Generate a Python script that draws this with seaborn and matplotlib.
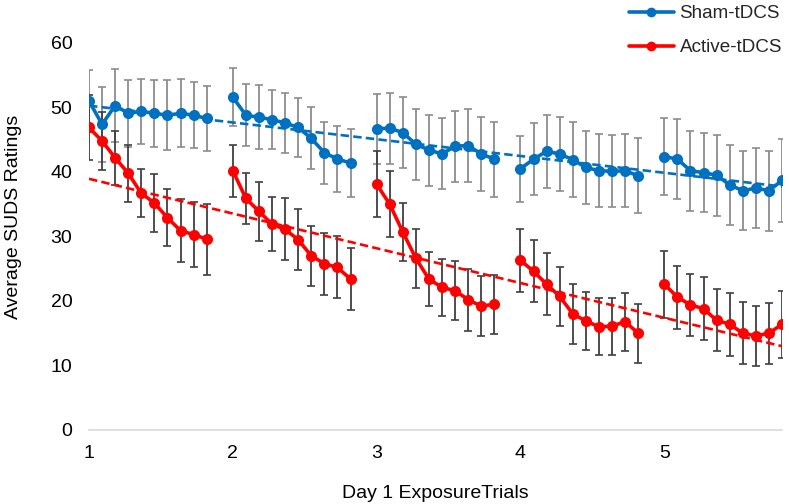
import numpy as np
import pandas as pd
import matplotlib
matplotlib.use("Agg")
import matplotlib.pyplot as plt
from matplotlib.lines import Line2D
import seaborn as sns

# ---------------- data ----------------
block_labels = ["1", "2", "3", "4", "5"]
trials_per_block = 10

sham_mean = [51.0, 47.4, 50.3, 49.1, 49.4, 49.1, 48.8, 49.1, 48.8, 48.3,
             51.6, 48.8, 48.5, 48.1, 47.6, 46.9, 45.2, 43.0, 42.0, 41.4,
             46.7, 46.8, 46.1, 44.3, 43.4, 42.8, 44.0, 44.1, 42.8, 42.0,
             40.5, 42.0, 43.2, 42.8, 41.9, 40.7, 40.2, 40.1, 40.2, 39.4,
             42.4, 42.0, 40.2, 39.9, 39.5, 38.0, 37.1, 37.5, 37.1, 38.7]
sham_err = [4.8, 5.8, 5.6, 5.2, 5.0, 5.2, 5.4, 5.3, 5.1, 5.0,
            4.5, 4.8, 5.0, 4.6, 4.6, 4.6, 4.8, 4.8, 5.1, 5.2,
            5.4, 5.5, 5.5, 5.5, 5.5, 5.5, 5.5, 5.6, 5.8, 5.8,
            5.1, 5.6, 5.7, 5.7, 5.8, 5.6, 5.7, 5.6, 5.7, 5.8,
            6.0, 6.2, 6.2, 6.1, 6.3, 6.2, 6.1, 6.2, 6.2, 6.4]

active_mean = [46.9, 44.8, 42.2, 39.8, 36.7, 35.2, 32.9, 30.9, 30.3, 29.6,
               40.2, 35.9, 33.9, 31.9, 31.1, 29.5, 27.0, 25.8, 25.2, 23.4,
               38.1, 35.0, 30.7, 26.6, 23.4, 22.1, 21.6, 20.2, 19.2, 19.5,
               26.3, 24.6, 22.6, 20.7, 18.0, 16.9, 16.0, 16.1, 16.8, 15.0,
               22.6, 20.6, 19.4, 18.8, 17.0, 16.4, 15.0, 14.6, 15.0, 16.4]
active_err = [5.0, 4.5, 4.2, 4.4, 3.7, 4.5, 4.4, 4.9, 5.0, 5.5,
              4.0, 3.9, 4.6, 4.2, 4.8, 4.7, 4.6, 4.8, 4.8, 4.8,
              5.1, 5.1, 4.5, 4.6, 4.2, 4.4, 4.6, 4.8, 4.7, 4.6,
              4.9, 4.8, 4.8, 4.6, 4.7, 4.5, 4.4, 4.4, 4.5, 4.6,
              5.2, 4.9, 4.8, 4.9, 4.8, 4.9, 4.8, 4.7, 4.7, 5.2]

series_names = ["Sham-tDCS", "Active-tDCS"]
series_colors = {"Sham-tDCS": "#0070C0", "Active-tDCS": "#FF0000"}
errbar_colors = {"Sham-tDCS": "#8C8C8C", "Active-tDCS": "#3F3F3F"}

# category positions: 10 trials per block + one empty slot between blocks
n_blocks = len(block_labels)
slot = trials_per_block + 1
cat_x = [b * slot + j for b in range(n_blocks) for j in range(trials_per_block)]
block_id = [b for b in range(n_blocks) for j in range(trials_per_block)]

rows = []
for name, m, e in [("Sham-tDCS", sham_mean, sham_err), ("Active-tDCS", active_mean, active_err)]:
    for x, b, v, ee in zip(cat_x, block_id, m, e):
        rows.append(dict(x=x, block=b, y=v, err=ee, group=name))
df = pd.DataFrame(rows)

# ---------------- plot ----------------
sns.set_theme(style="white")
plt.rcParams["font.family"] = ["Liberation Sans", "DejaVu Sans"]
FS = 14.0

fig = plt.figure(figsize=(7.89, 5.04), dpi=100)
ax = fig.add_axes([89 / 789, 1 - 430 / 504, (782 - 89) / 789, (430 - 43) / 504])

for name in series_names:
    d = df[df.group == name]
    ax.errorbar(d.x, d.y, yerr=d.err, fmt="none", ecolor=errbar_colors[name],
                elinewidth=1.3, capsize=3, capthick=1.2, zorder=1)

sns.lineplot(data=df, x="x", y="y", hue="group", units="block", estimator=None,
             palette=series_colors, hue_order=series_names, marker="o",
             markersize=8, markeredgewidth=0, linewidth=2.6, legend=False,
             ax=ax, zorder=3)

for name in series_names:
    d = df[df.group == name]
    sns.regplot(data=d, x="x", y="y", scatter=False, ci=None, ax=ax,
                line_kws=dict(color=series_colors[name], lw=1.9,
                              ls=(0, (3.2, 1.6)), zorder=4))

total_cats = n_blocks * slot - 1
ax.set_xlim(0, total_cats - 1)
ax.set_ylim(0, 60)
ax.set_yticks(range(0, 61, 10))
ax.set_xticks([b * slot for b in range(n_blocks)])
ax.set_xticklabels(block_labels)
ax.set_xticks(range(0, total_cats), minor=True)

for s in ["top", "right", "left"]:
    ax.spines[s].set_visible(False)
ax.spines["bottom"].set_color("#D9D9D9")
ax.spines["bottom"].set_linewidth(1.2)
ax.tick_params(axis="x", which="both", direction="out", length=5, width=1,
               color="#D9D9D9", labelsize=FS, labelcolor="#000000", pad=6)
ax.tick_params(axis="y", length=0, labelsize=FS, labelcolor="#000000", pad=12)
ax.set_xlabel("Day 1 ExposureTrials", fontsize=FS, color="#000000")
ax.set_ylabel("Average SUDS Ratings", fontsize=FS, color="#000000")
ax.xaxis.set_label_coords(0.5, -0.142)
ax.yaxis.set_label_coords(-0.096, 0.55)
ax.grid(False)

handles = [Line2D([0], [0], color=series_colors[n], lw=2.6, marker="o",
                  markersize=7, markeredgewidth=0) for n in series_names]
fig.legend(handles, series_names, loc="upper left",
           bbox_to_anchor=(621 / 789, 1.005), frameon=False, fontsize=13.6,
           handlelength=2.4, labelspacing=0.9, handletextpad=0.3,
           borderaxespad=0.0)

fig.savefig("out.png", dpi=100, facecolor="white")
